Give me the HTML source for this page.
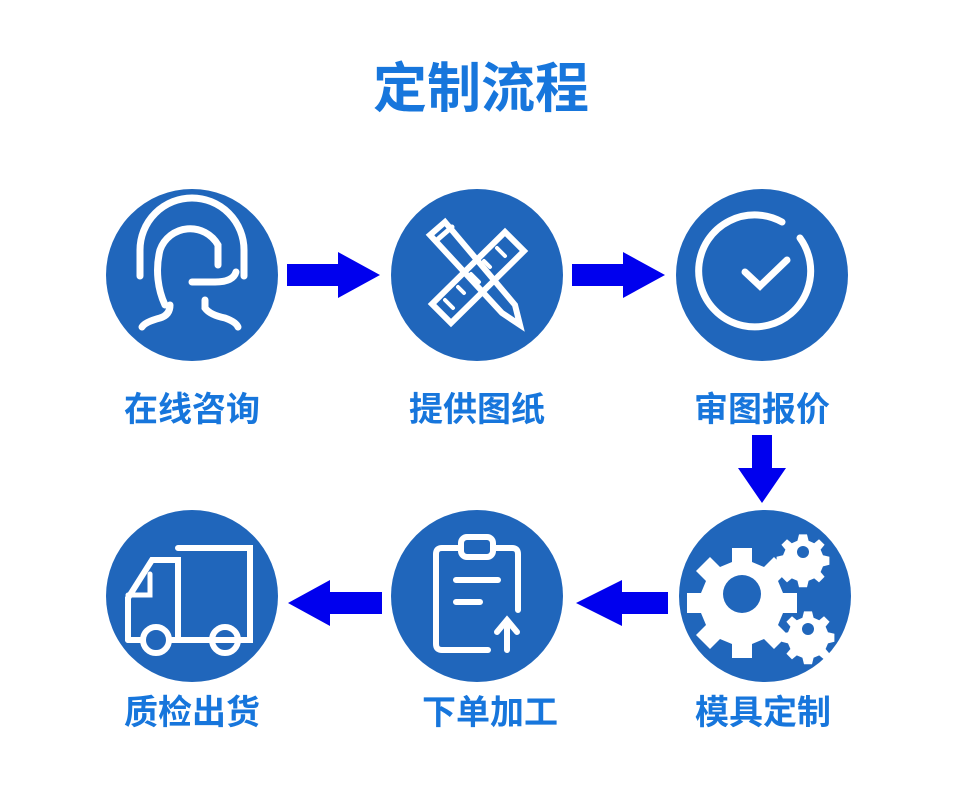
<!DOCTYPE html>
<html><head><meta charset="utf-8"><style>
html,body{margin:0;padding:0;background:#fff;width:960px;height:800px;overflow:hidden}
svg{display:block}
text{font-family:"Liberation Sans","Noto Sans CJK SC",sans-serif;font-weight:bold;fill:#1776dc}
</style></head><body>
<svg width="960" height="800" viewBox="0 0 960 800">
<text x="481" y="107" font-size="54" text-anchor="middle">定制流程</text>
<g fill="#2066bb">
<circle cx="192" cy="275" r="86"/><circle cx="477" cy="275" r="86"/><circle cx="762" cy="275" r="86"/>
<circle cx="192" cy="596" r="86"/><circle cx="477" cy="596" r="86"/><circle cx="765" cy="596" r="86"/>
</g>
<g fill="#0000ee">
<polygon points="287,264 338,264 338,252 380,275 338,298 338,286 287,286"/>
<polygon points="572,264 623,264 623,252 665,275 623,298 623,286 572,286"/>
<polygon points="752,435 772,435 772,468 786,468 762,503 738,468 752,468"/>
<polygon points="668,592 622,592 622,580 576,603 622,626 622,614 668,614"/>
<polygon points="382,592 330,592 330,580 288,603 330,626 330,614 382,614"/>
</g>
<g fill="none" stroke="#fff" stroke-width="7" stroke-linecap="round">
<path d="M140,276 V250 A52,52 0 0 1 244,250 V276"/>
<path d="M165,305 C158,290 155,270 160,250 A32,32 0 0 1 218,245 L218,265"/>
<path d="M192,282 H215 Q233,282 236,272"/>
<path d="M170,305 Q170,315 160,318 Q145,322 142,327"/>
<path d="M205,300 V308 Q210,315 225,318 Q236,322 238,327"/>
<path d="M432,304 L505,232 L524,251 L451,323 Z" stroke-width="6"/>
<path d="M445,300 l8,8 M458,287 l6,6 M471,274 l8,8 M484,261 l6,6 M497,248 l8,8" stroke-width="4"/>
<path d="M430,235 L445,222 L515,305 L520,325 L502,313 Z" stroke-width="6"/>
<path d="M437,240 L452,227" stroke-width="5"/>
<path d="M800,238 A56,56 0 1 1 782,222" stroke-width="7"/>
<path d="M745,272 L760,286 L787,260"/>
<path d="M128,640 V598 L152,560 H178 V640" stroke-width="6"/>
<path d="M178,548 H250 V640 H178" stroke-width="6"/>
<path d="M150,574 V595 H128" stroke-width="5"/>
<path d="M128,640 H142 M170,640 H210 M240,640 H250" stroke-width="6"/>
<circle cx="156" cy="640" r="13" stroke-width="6"/>
<circle cx="225" cy="640" r="13" stroke-width="6"/>
<path d="M460,548 H442 Q436,548 436,554 V644 Q436,650 442,650 H488" stroke-width="6"/>
<path d="M494,548 H512 Q518,548 518,554 V610" stroke-width="6"/>
<rect x="461" y="537" width="32" height="20" rx="6" stroke-width="6"/>
<path d="M456,580 H498 M456,602 H480" stroke-width="6"/>
<path d="M507,650 V622 M497,632 L507,620 L517,632" stroke-width="6"/>
</g>
<g fill="#fff">
<path d="M732,548 h20 v14 l12,5 10,-10 14,14 -10,10 5,12 h14 v20 h-14 l-5,12 10,10 -14,14 -10,-10 -12,5 v14 h-20 v-14 l-12,-5 -10,10 -14,-14 10,-10 -5,-12 h-14 v-20 h14 l5,-12 -10,-10 14,-14 10,10 12,-5 z"/>
<g transform="translate(803,552) scale(0.8) translate(-803,-552)">
<path d="M798,530 h10 l2,8 7,3 6,-5 7,7 -5,6 3,7 8,2 v10 l-8,2 -3,7 5,6 -7,7 -6,-5 -7,3 -2,8 h-10 l-2,-8 -7,-3 -6,5 -7,-7 5,-6 -3,-7 -8,-2 v-10 l8,-2 3,-7 -5,-6 7,-7 6,5 7,-3 z"/></g>
<g transform="translate(808,629) scale(0.8) translate(-808,-629)">
<path d="M803,607 h10 l2,8 7,3 6,-5 7,7 -5,6 3,7 8,2 v10 l-8,2 -3,7 5,6 -7,7 -6,-5 -7,3 -2,8 h-10 l-2,-8 -7,-3 -6,5 -7,-7 5,-6 -3,-7 -8,-2 v-10 l8,-2 3,-7 -5,-6 7,-7 6,5 7,-3 z"/></g>
</g>
<g fill="#2066bb"><circle cx="742" cy="594" r="19"/><circle cx="803" cy="552" r="6"/><circle cx="808" cy="629" r="6"/></g>
<g font-size="34" text-anchor="middle">
<text x="192" y="421">在线咨询</text><text x="477" y="421">提供图纸</text><text x="762" y="421">审图报价</text>
<text x="192" y="724">质检出货</text><text x="490" y="724">下单加工</text><text x="763" y="724">模具定制</text>
</g>
</svg>
</body></html>
